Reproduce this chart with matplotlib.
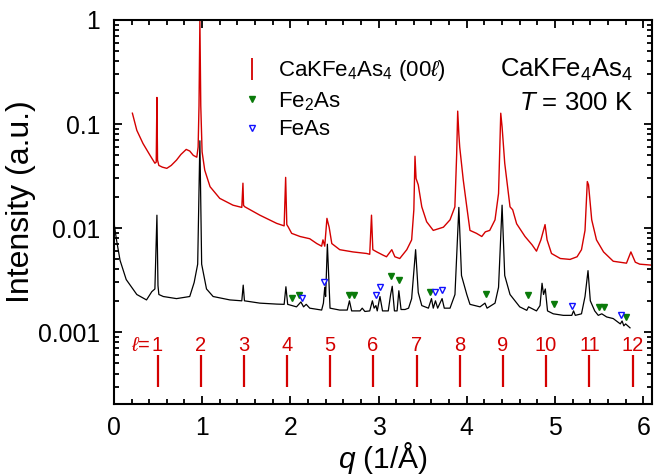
import numpy as np
import matplotlib
matplotlib.use('Agg')
import matplotlib.pyplot as plt
from matplotlib.lines import Line2D
from matplotlib.ticker import FixedLocator, LogLocator, MultipleLocator, NullFormatter

plt.rcParams['font.family'] = ['Liberation Sans', 'DejaVu Sans']
plt.rcParams['mathtext.fontset'] = 'custom'
plt.rcParams['mathtext.rm'] = 'Liberation Sans'
plt.rcParams['mathtext.it'] = 'Liberation Sans:italic'

RED = '#d40000'
GREEN = '#0a7a0a'
BLUE = '#1010ff'

# single crystal, (00l) reflections
red_q = [0.21, 0.26, 0.33, 0.41, 0.465, 0.48, 0.488, 0.495, 0.51, 0.55, 0.60, 0.65,
         0.71, 0.76, 0.82, 0.86, 0.90, 0.94, 0.955, 0.965, 0.975, 0.985, 1.0, 1.03,
         1.09, 1.20, 1.35, 1.45,
         1.463, 1.47, 1.485, 1.655, 1.845, 1.93, 1.947, 1.96, 1.975, 2.015, 2.11, 2.22,
         2.30, 2.355, 2.37, 2.39, 2.415, 2.43, 2.44, 2.47, 2.56, 2.71, 2.865, 2.90,
         2.92, 2.935, 2.98, 3.05, 3.09, 3.15, 3.185, 3.24, 3.32, 3.375, 3.40, 3.413,
         3.425, 3.45, 3.49, 3.545, 3.62, 3.735, 3.81, 3.865, 3.885, 3.897, 3.91, 3.92,
         3.96, 4.0, 4.036, 4.11, 4.17, 4.21, 4.26, 4.32, 4.36, 4.385, 4.40, 4.43,
         4.49, 4.52, 4.565, 4.66, 4.74, 4.79, 4.84, 4.887, 4.91, 4.96, 5.06, 5.17,
         5.25, 5.30, 5.34, 5.366, 5.38, 5.416, 5.47, 5.55, 5.66, 5.81, 5.86, 5.91,
         5.96, 6.10]
red_I = [0.127, 0.087, 0.065, 0.050, 0.042, 0.043, 0.18, 0.045, 0.040, 0.0385, 0.0375, 0.040,
         0.045, 0.051, 0.057, 0.055, 0.050, 0.048, 0.060, 0.15, 1.0, 0.15, 0.054, 0.036,
         0.025, 0.0193, 0.0166, 0.0158,
         0.027, 0.0165, 0.016, 0.0133, 0.0111, 0.0105, 0.0307, 0.0108, 0.0103, 0.0089, 0.0083, 0.0079,
         0.0071, 0.0067, 0.0077, 0.0067, 0.0124, 0.011, 0.0102, 0.0071, 0.0062, 0.0059, 0.0057, 0.0056,
         0.0133, 0.0062, 0.0059, 0.0055, 0.0053, 0.0062, 0.0053, 0.0051, 0.0062, 0.0077, 0.015, 0.049,
         0.030, 0.026, 0.016, 0.0115, 0.0095, 0.0102, 0.012, 0.016, 0.05, 0.133, 0.08, 0.060,
         0.029, 0.016, 0.0095, 0.0089, 0.0083, 0.0092, 0.0095, 0.012, 0.0215, 0.127, 0.094, 0.042,
         0.016, 0.015, 0.011, 0.0083, 0.0069, 0.0060, 0.0077, 0.0108, 0.0077, 0.0057, 0.0051, 0.0050,
         0.0053, 0.0062, 0.0095, 0.028, 0.026, 0.012, 0.0077, 0.0059, 0.0048, 0.0046, 0.0059, 0.0047,
         0.0045, 0.0044]

# powder
blk_q = [0.0, 0.03, 0.07, 0.14, 0.26, 0.37, 0.43, 0.465, 0.488, 0.50, 0.51, 0.56,
         0.71, 0.86, 0.91, 0.95, 0.975, 0.995, 1.05, 1.125, 1.315, 1.45, 1.466, 1.48,
         1.655, 1.845, 1.93, 1.95, 1.97, 2.07, 2.12, 2.15, 2.18, 2.22, 2.355, 2.375,
         2.39, 2.40, 2.42, 2.45, 2.56, 2.645, 2.67, 2.695, 2.79, 2.815, 2.845, 2.90,
         2.93, 2.95, 2.97, 2.985, 3.016, 3.045, 3.11, 3.137, 3.155, 3.18, 3.21, 3.23,
         3.255, 3.30, 3.34, 3.375, 3.42, 3.45, 3.49, 3.565, 3.60, 3.62, 3.645, 3.67,
         3.72, 3.745, 3.81, 3.866, 3.91, 3.94, 4.0, 4.036, 4.15, 4.206, 4.23, 4.32,
         4.36, 4.40, 4.43, 4.49, 4.60, 4.68, 4.70, 4.79, 4.83, 4.853, 4.87, 4.89,
         4.915, 4.98, 5.094, 5.19, 5.21, 5.23, 5.30, 5.34, 5.374, 5.40, 5.45, 5.49,
         5.53, 5.585, 5.66, 5.74, 5.76, 5.78, 5.80, 5.85]
blk_I = [0.0115, 0.0077, 0.0049, 0.0032, 0.0023, 0.00204, 0.00245, 0.0026, 0.0133, 0.0028, 0.0023, 0.0022,
         0.0021, 0.0022, 0.0030, 0.0045, 0.069, 0.0045, 0.0026, 0.0022, 0.00204, 0.0020, 0.00283, 0.0020,
         0.0019, 0.00186, 0.00185, 0.00273, 0.00185, 0.00175, 0.00195, 0.00175, 0.00185, 0.0017, 0.00163, 0.0019,
         0.0027, 0.0022, 0.0070, 0.0017, 0.00163, 0.00163, 0.0020, 0.0016, 0.0016, 0.0017, 0.00158, 0.0016,
         0.0020, 0.0017, 0.0018, 0.0016, 0.0022, 0.0016, 0.0016, 0.0023, 0.00276, 0.0016, 0.0016, 0.0025,
         0.00165, 0.00165, 0.0017, 0.0021, 0.0062, 0.0024, 0.0018, 0.0017, 0.0021, 0.0017, 0.0020, 0.0017,
         0.0021, 0.0017, 0.0017, 0.0023, 0.0158, 0.0035, 0.0023, 0.00185, 0.00175, 0.0019, 0.0017, 0.0019,
         0.0027, 0.0166, 0.0035, 0.0023, 0.00175, 0.00162, 0.00175, 0.0016, 0.0018, 0.00295, 0.0023, 0.0026,
         0.0016, 0.0015, 0.00145, 0.00145, 0.0016, 0.00145, 0.0015, 0.0022, 0.0039, 0.0020, 0.0016, 0.00145,
         0.0015, 0.0014, 0.00135, 0.0012, 0.00128, 0.00115, 0.0012, 0.0011]

# impurity markers
fe2as_q = [2.02, 2.10, 2.66, 2.72, 3.14, 3.235, 3.58, 4.214, 4.69, 4.99, 5.50, 5.55, 5.805]
fe2as_I = [0.00214, 0.00227, 0.00229, 0.00229, 0.00346, 0.0032, 0.00244, 0.00232, 0.00225,
           0.00186, 0.00173, 0.00173, 0.00139]
feas_q = [2.135, 2.385, 2.97, 3.02, 3.64, 3.715, 5.196, 5.75]
feas_I = [0.00211, 0.00305, 0.00227, 0.00269, 0.00244, 0.00253, 0.00178, 0.00146]

# (00l) positions
ell = [1, 2, 3, 4, 5, 6, 7, 8, 9, 10, 11, 12]
ell_q = [0.495, 0.983, 1.474, 1.965, 2.452, 2.933, 3.432, 3.923, 4.407, 4.898, 5.39, 5.88]

fig = plt.figure(figsize=(6.62, 4.75), dpi=100)
ax = fig.add_axes([0.172, 0.1495, 0.813, 0.8085])

ax.plot(red_q, red_I, color=RED, lw=1.0)
ax.plot(blk_q, blk_I, color='black', lw=0.9)
ax.plot(fe2as_q, fe2as_I, 'v', color=GREEN, ms=5, mec=GREEN, ls='none')
ax.plot(feas_q, feas_I, 'v', mfc='white', mec=BLUE, mew=1.0, ms=5, ls='none')

# ticks for (00l)
ax.vlines(ell_q, 2.96e-4, 6.0e-4, color=RED, lw=1.6)
for n, q in zip(ell, ell_q):
    ax.text(q, 7.5e-4, str(n), color=RED, ha='center', va='center', fontsize=14.5)
ax.annotate(r'$\ell$=', xy=(ell_q[0], 7.5e-4), xytext=(-5, 0), textcoords='offset points',
            ha='right', va='center', color=RED, fontsize=14.5)

ax.set_yscale('log')
ax.set_xlim(0, 6.1)
ax.set_ylim(2.04e-4, 1)
ax.yaxis.set_major_locator(FixedLocator([0.001, 0.01, 0.1, 1]))
ax.set_yticklabels(['0.001', '0.01', '0.1', '1'])
ax.yaxis.set_minor_locator(LogLocator(base=10, subs=np.arange(2, 10)))
ax.yaxis.set_minor_formatter(NullFormatter())
ax.xaxis.set_major_locator(MultipleLocator(1))
ax.xaxis.set_minor_locator(MultipleLocator(0.2))

ax.tick_params(which='both', direction='in', top=True, right=True, width=1.3, labelsize=17.8)
ax.tick_params(which='major', length=6)
ax.tick_params(which='minor', length=3.5)
ax.tick_params(axis='x', pad=8.5)
ax.tick_params(axis='y', pad=10)
for sp in ax.spines.values():
    sp.set_linewidth(1.5)

ax.set_xlabel(r'$q$ (1/Å)', fontsize=21.5, labelpad=0)
ax.set_ylabel('Intensity (a.u.)', fontsize=23, labelpad=1, y=0.526)

handles = [
    Line2D([], [], color=RED, marker='|', ms=16, mew=1.3, ls='none'),
    Line2D([], [], color=GREEN, marker='v', ms=5, ls='none'),
    Line2D([], [], marker='v', mfc='white', mec=BLUE, mew=1.0, ms=5, ls='none'),
]
labels = [r'CaKFe$_4$As$_4$ (00$\ell$)', r'Fe$_2$As', 'FeAs']
ax.legend(handles, labels, loc='upper left', bbox_to_anchor=(0.2, 0.952), frameon=False,
          fontsize=16, handlelength=0.9, handletextpad=0.75, labelspacing=0.3)

ax.text(0.965, 0.87, r'CaKFe$_4$As$_4$', transform=ax.transAxes, ha='right', va='center', fontsize=18.5)
ax.text(0.965, 0.784, r'$T$ = 300 K', transform=ax.transAxes, ha='right', va='center', fontsize=18.5)

fig.savefig('out.png', dpi=100)
